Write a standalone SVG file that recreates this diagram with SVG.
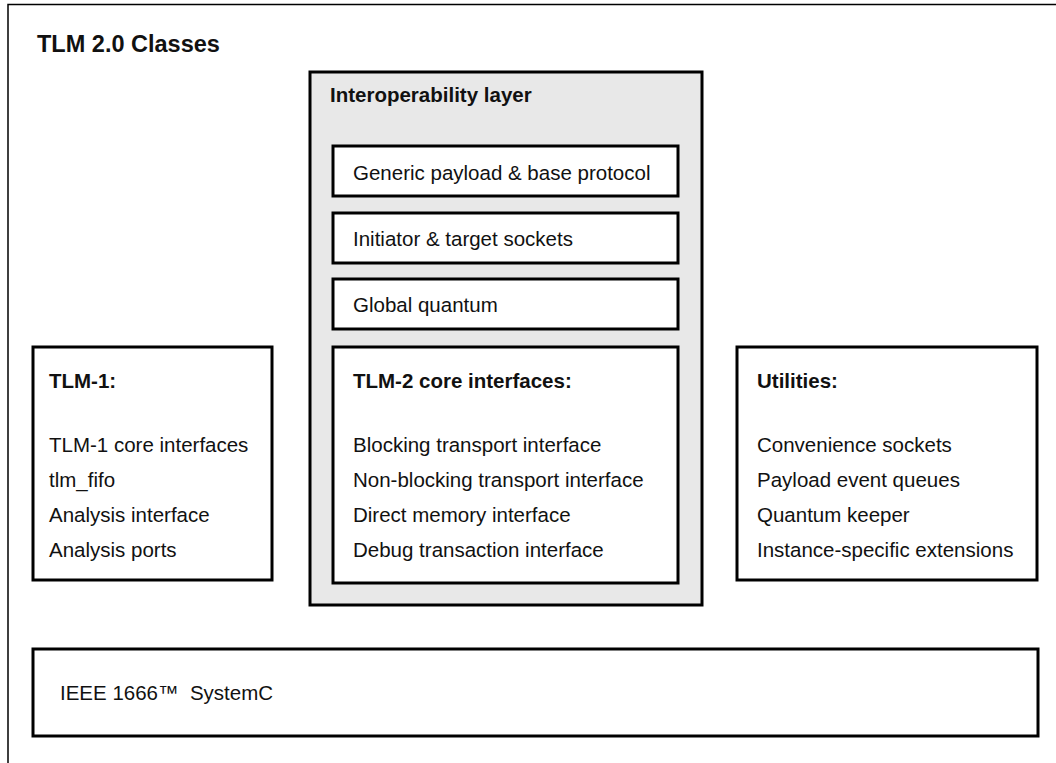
<svg xmlns="http://www.w3.org/2000/svg" width="1056" height="763" viewBox="0 0 1056 763">
<style>
  text { font-family: "Liberation Sans", Arial, sans-serif; fill: #111; font-size: 20.5px; }
  .b { font-weight: bold; }
  .title { font-weight: bold; font-size: 23.5px; }
  .box { fill: #ffffff; stroke: #000; stroke-width: 3; }
  .layer { fill: #e8e8e8; stroke: #000; stroke-width: 3; }
</style>
<rect width="1056" height="763" fill="#ffffff"/>
<g id="frame">
  <rect x="8" y="4.5" width="1100" height="800" fill="none" stroke="#000" stroke-width="1.5"/>
  <text class="title" x="37" y="52">TLM 2.0 Classes</text>
</g>
<g id="interop">
  <rect class="layer" x="310" y="72" width="392" height="533"/>
  <text class="b" x="330" y="102">Interoperability layer</text>
</g>
<g id="payload">
  <rect class="box" x="333" y="146" width="345" height="50"/>
  <text x="353" y="180">Generic payload &amp; base protocol</text>
</g>
<g id="sockets">
  <rect class="box" x="333" y="213" width="345" height="50"/>
  <text x="353" y="246">Initiator &amp; target sockets</text>
</g>
<g id="quantum">
  <rect class="box" x="333" y="279" width="345" height="50"/>
  <text x="353" y="312">Global quantum</text>
</g>
<g id="tlm2core">
  <rect class="box" x="333" y="347" width="345" height="236"/>
  <text class="b" x="353" y="388">TLM-2 core interfaces:</text>
  <text x="353" y="452">Blocking transport interface</text>
  <text x="353" y="487">Non-blocking transport interface</text>
  <text x="353" y="522">Direct memory interface</text>
  <text x="353" y="557">Debug transaction interface</text>
</g>
<g id="tlm1">
  <rect class="box" x="33" y="347" width="239" height="233"/>
  <text class="b" x="49" y="388">TLM-1:</text>
  <text x="49" y="452">TLM-1 core interfaces</text>
  <text x="49" y="487">tlm_fifo</text>
  <text x="49" y="522">Analysis interface</text>
  <text x="49" y="557">Analysis ports</text>
</g>
<g id="utilities">
  <rect class="box" x="737" y="347" width="300" height="233"/>
  <text class="b" x="757" y="388">Utilities:</text>
  <text x="757" y="452">Convenience sockets</text>
  <text x="757" y="487">Payload event queues</text>
  <text x="757" y="522">Quantum keeper</text>
  <text x="757" y="557">Instance-specific extensions</text>
</g>
<g id="systemc">
  <rect class="box" x="33" y="649" width="1005" height="87"/>
  <text x="60" y="700" xml:space="preserve">IEEE 1666™  SystemC</text>
</g>
<g id="connectors"></g>
</svg>
